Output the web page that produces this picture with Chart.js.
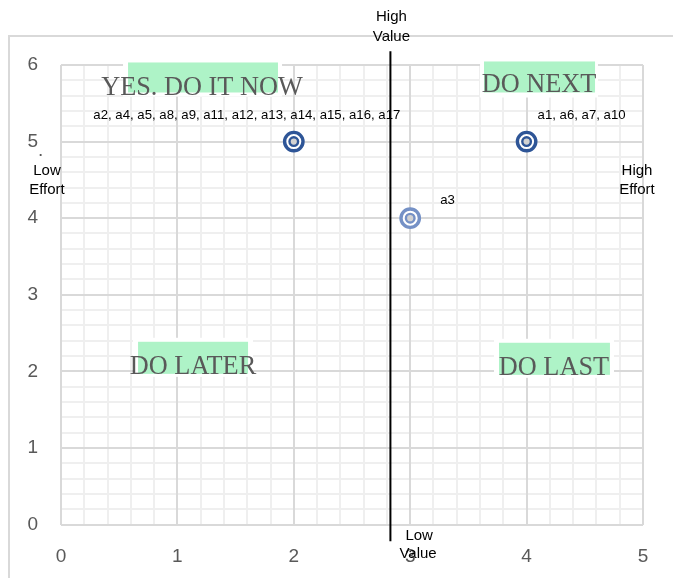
<!DOCTYPE html>
<html>
<head>
<meta charset="utf-8">
<script src="https://cdn.jsdelivr.net/npm/chart.js@4.4.1/dist/chart.umd.min.js"></script>
<style>
html,body{margin:0;padding:0;background:#fff;}
#wrap{position:relative;width:673px;height:578px;}
</style>
</head>
<body>
<div id="wrap"><canvas id="c" width="673" height="578"></canvas></div>
<script>
// ---- data ----
const pointX = [2, 4, 3];
const pointY = [5, 5, 4];
const pointLabels = [
  "a2, a4, a5, a8, a9, a11, a12, a13, a14, a15, a16, a17",
  "a1, a6, a7, a10",
  "a3"
];
const pointColors = ["#2e5597", "#2e5597", "#7591c6"];
const dividerX = [2.83, 2.83];
const dividerY = [6.18, -0.22];
const xTicks = [0, 1, 2, 3, 4, 5];
const yTicks = [0, 1, 2, 3, 4, 5, 6];
const quadrantTexts = ["YES. DO IT NOW", "DO NEXT", "DO LATER", "DO LAST"];

// ---- styles / annotation layout (data units) ----
const quadBoxes = [
  {white:[0.533,1.899,5.588,6.046], green:[0.576,1.864,5.641,6.033], cx:1.211, by:5.614},
  {white:[3.600,4.613,5.575,6.072], green:[3.634,4.588,5.641,6.046], cx:4.107, by:5.641},
  {white:[0.619,1.649,1.928,2.438], green:[0.662,1.607,1.967,2.386], cx:1.134, by:1.967},
  {white:[3.720,4.751,1.915,2.425], green:[3.763,4.716,1.954,2.373], cx:4.235, by:1.954}
];
const labelOffsets = [
  {dx:-47, dy:-26, align:'center'},
  {dx:11, dy:-26, align:'left'},
  {dx:30, dy:-18, align:'left'}
];

const points = pointX.map((x,i)=>({x:x, y:pointY[i]}));
const divider = dividerX.map((x,i)=>({x:x, y:dividerY[i]}));

const decor = {
  id:'decor',
  beforeDraw(chart){
    const ctx = chart.ctx;
    ctx.save();
    ctx.fillStyle = '#fff';
    ctx.fillRect(0,0,chart.width,chart.height);
    ctx.strokeStyle = '#d9d9d9';
    ctx.lineWidth = 2;
    ctx.strokeRect(9,36,chart.width+20,chart.height+20);
    ctx.restore();
  },
  beforeDatasetsDraw(chart){
    const ctx = chart.ctx, xs = chart.scales.x, ys = chart.scales.y;
    ctx.save();
    quadBoxes.forEach((b,i)=>{
      const w = b.white, g = b.green;
      ctx.fillStyle = '#ffffff';
      ctx.fillRect(xs.getPixelForValue(w[0]), ys.getPixelForValue(w[3]),
        xs.getPixelForValue(w[1])-xs.getPixelForValue(w[0]), ys.getPixelForValue(w[2])-ys.getPixelForValue(w[3]));
      ctx.fillStyle = '#aef3c7';
      ctx.fillRect(xs.getPixelForValue(g[0]), ys.getPixelForValue(g[3]),
        xs.getPixelForValue(g[1])-xs.getPixelForValue(g[0]), ys.getPixelForValue(g[2])-ys.getPixelForValue(g[3]));
      ctx.fillStyle = '#595959';
      ctx.font = '26.3px "Liberation Serif", "Times New Roman", serif';
      ctx.textAlign = 'center';
      ctx.textBaseline = 'alphabetic';
      ctx.fillText(quadrantTexts[i], xs.getPixelForValue(b.cx), ys.getPixelForValue(b.by));
    });
    ctx.restore();
  },
  beforeDatasetDraw(chart, args){
    if (args.index !== 0) return;
    const ctx = chart.ctx, xs = chart.scales.x, ys = chart.scales.y;
    ctx.save();
    ctx.fillStyle = '#000';
    ctx.font = '13.2px "Liberation Sans", Arial, sans-serif';
    ctx.textBaseline = 'middle';
    points.forEach((p,i)=>{
      const o = labelOffsets[i];
      ctx.textAlign = o.align;
      ctx.fillText(pointLabels[i], xs.getPixelForValue(p.x)+o.dx, ys.getPixelForValue(p.y)+o.dy);
    });
    ctx.restore();
  },
  afterDraw(chart){
    const ctx = chart.ctx, xs = chart.scales.x, ys = chart.scales.y;
    ctx.save();
    ctx.fillStyle = '#000';
    ctx.font = '15px "Liberation Sans", Arial, sans-serif';
    ctx.textBaseline = 'middle';
    ctx.textAlign = 'center';
    const dx = xs.getPixelForValue(dividerX[0]);
    ctx.fillText('High', dx+1, 17);
    ctx.fillText('Value', dx+1, 37);
    ctx.textAlign = 'left';
    ctx.fillText('Low', dx+15, 536);
    ctx.fillText('Value', dx+9, 554);
    ctx.textAlign = 'center';
    ctx.fillText('Low', 47, 171);
    ctx.fillText('Effort', 47, 190);
    ctx.fillText('High', 637, 171);
    ctx.fillText('Effort', 637, 190);
    ctx.fillStyle = '#595959';
    ctx.font = '19px "Liberation Sans", Arial, sans-serif';
    ctx.textAlign = 'left';
    ctx.textBaseline = 'alphabetic';
    ctx.fillText('.', 38, ys.getPixelForValue(5)+14);
    ctx.restore();
  }
};

const tickFont = {family:'"Liberation Sans", Arial, sans-serif', size:19};

new Chart(document.getElementById('c'), {
  type:'scatter',
  data:{
    datasets:[
      {type:'line', data:divider, borderColor:'#000', borderWidth:2, pointRadius:0, clip:false, fill:false},
      {data:points, pointRadius:4.3, pointBorderWidth:2.4, pointBorderColor:pointColors,
       pointBackgroundColor:'rgba(195,195,195,0.75)', pointHoverRadius:4.3},
      {data:points, pointRadius:9.2, pointBorderWidth:3.4, pointBorderColor:pointColors,
       pointBackgroundColor:'#ffffff', pointHoverRadius:9.2}
    ]
  },
  options:{
    responsive:false,
    animation:false,
    events:[],
    layout:{padding:{left:0, right:30, top:65, bottom:0}},
    plugins:{legend:{display:false}, tooltip:{enabled:false}},
    scales:{
      xm:{type:'linear', position:'bottom', min:0, max:5, z:-1,
        ticks:{display:false, stepSize:0.2},
        grid:{color:'#efefef', lineWidth:2, drawTicks:false},
        border:{display:false},
        afterFit(s){ s.height = 0; }},
      ym:{type:'linear', position:'left', min:0, max:6, z:-1,
        ticks:{display:false, stepSize:0.2},
        grid:{color:'#efefef', lineWidth:2, drawTicks:false},
        border:{display:false},
        afterFit(s){ s.width = 0; }},
      x:{type:'linear', position:'bottom', min:0, max:5,
        afterBuildTicks(s){ s.ticks = xTicks.map(v=>({value:v})); },
        ticks:{color:'#595959', font:tickFont, padding:21},
        grid:{color:'#d9d9d9', lineWidth:2, drawTicks:false},
        border:{display:false},
        afterFit(s){ s.height = 53.5; }},
      y:{type:'linear', position:'left', min:0, max:6,
        afterBuildTicks(s){ s.ticks = yTicks.map(v=>({value:v})); },
        ticks:{color:'#595959', font:tickFont, padding:23},
        grid:{color:'#d9d9d9', lineWidth:2, drawTicks:false},
        border:{display:false},
        afterFit(s){ s.width = 61; }}
    }
  },
  plugins:[decor]
});
</script>
</body>
</html>
